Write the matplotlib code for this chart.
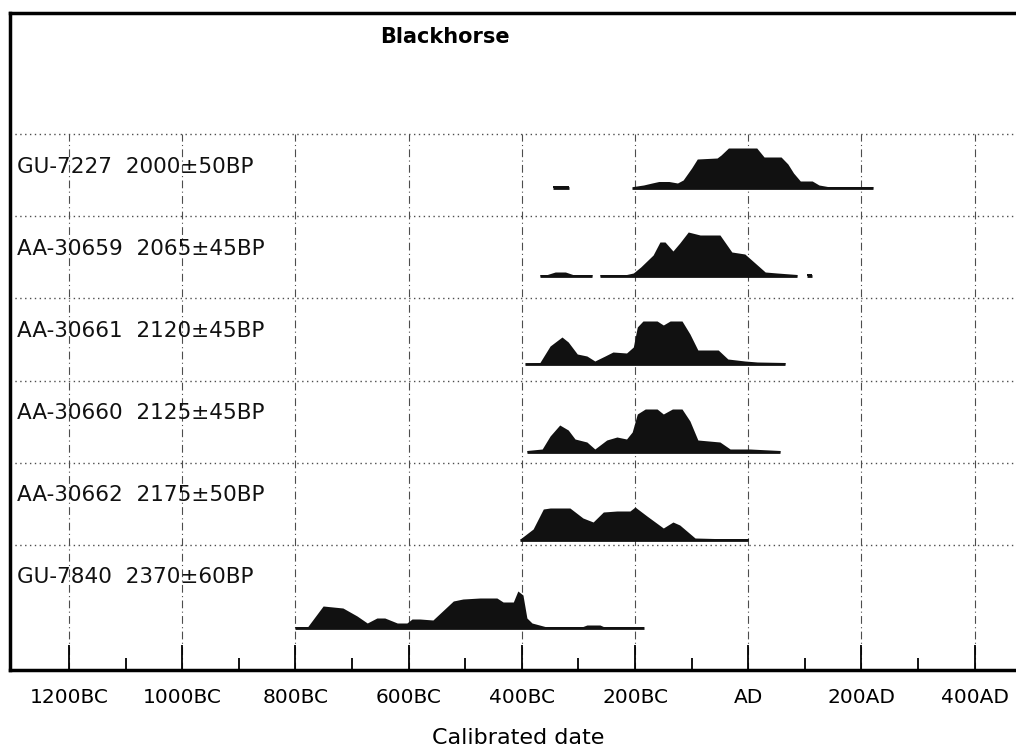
import matplotlib.pyplot as plt

# radiocarbon samples, top to bottom
labels = ["GU-7227  2000±50BP", "AA-30659  2065±45BP", "AA-30661  2120±45BP",
          "AA-30660  2125±45BP", "AA-30662  2175±50BP", "GU-7840  2370±60BP"]

tick_years = [-1200, -1000, -800, -600, -400, -200, 0, 200, 400]
tick_labels = ["1200BC", "1000BC", "800BC", "600BC", "400BC", "200BC", "AD", "200AD", "400AD"]

# probability distributions (calendar year, relative height)
gu7227_years = [-205, -203, -185, -170, -158, -140, -125, -115, -100, -90, -55, -48, -35,
                15, 28, 40, 58, 70, 80, 92, 104, 113, 125, 140, 220]
gu7227_heights = [0, 1.5, 3, 5, 6.5, 6.5, 5, 8, 20, 29, 30, 33, 40,
                  40, 31, 31, 31, 24, 15, 7, 7, 7, 3, 1.5, 1.5]
gu7227_extra_years = [-345, -317]
gu7227_extra_heights = [2, 2]

aa30659_years = [-262, -215, -203, -190, -168, -156, -147, -133, -121, -106, -85, -50,
                 -29, -6, 8, 30, 51, 86]
aa30659_heights = [1.5, 1.5, 3, 9, 21, 34, 34, 25, 33, 44, 41, 41,
                   24, 22, 15, 4, 3, 1.5]
aa30659_extra_years = [-368, -355, -341, -323, -310, -276]
aa30659_extra_heights = [1.5, 1.5, 4, 4, 1.5, 1.5]
aa30659_block_years = [104, 113]
aa30659_block_heights = [2.5, 2.5]

aa30661_years = [-394, -368, -350, -329, -318, -302, -285, -271, -253, -239, -215, -203,
                 -196, -186, -161, -150, -138, -117, -103, -89, -53, -36, -6, 16, 65]
aa30661_heights = [1, 1.5, 18, 27, 22, 10, 8, 3, 8, 12, 11, 17,
                   37, 43, 43, 39, 43, 43, 30, 14, 14, 5, 3, 2, 1.5]

aa30660_years = [-391, -364, -350, -333, -318, -306, -285, -271, -250, -232, -215, -205,
                 -196, -182, -161, -150, -134, -117, -103, -89, -50, -32, 3, 56]
aa30660_heights = [1.5, 3, 16, 27, 22, 13, 10, 3, 12, 15, 13, 20,
                   38, 43, 43, 38, 43, 43, 31, 12, 10, 3, 3, 1.5]

aa30662_years = [-403, -380, -362, -350, -315, -292, -274, -256, -232, -209, -200, -179,
                 -150, -133, -121, -94, -60, 0]
aa30662_heights = [1, 11, 31, 32, 32, 22, 18, 28, 29, 29, 33, 24,
                   12, 18, 15, 2, 1.5, 1.5]

gu7840_years = [-801, -778, -751, -716, -691, -673, -656, -642, -620, -603, -594, -580,
                -557, -521, -504, -474, -444, -433, -415, -407, -398, -391, -382, -359,
                -292, -285, -262, -256, -185]
gu7840_heights = [1.5, 1.5, 22, 20, 12, 5, 10, 10, 5, 5, 9, 9,
                  8, 27, 29, 30, 30, 26, 26, 37, 33, 10, 5, 1.5,
                  1.5, 3, 3, 1.5, 1.5]

samples = [
    [(gu7227_extra_years, gu7227_extra_heights), (gu7227_years, gu7227_heights)],
    [(aa30659_extra_years, aa30659_extra_heights), (aa30659_years, aa30659_heights),
     (aa30659_block_years, aa30659_block_heights)],
    [(aa30661_years, aa30661_heights)],
    [(aa30660_years, aa30660_heights)],
    [(aa30662_years, aa30662_heights)],
    [(gu7840_years, gu7840_heights)],
]


def draw_chart():
    fig = plt.figure(figsize=(10.16, 7.54), dpi=100)
    W, H = 1016, 754
    ax = fig.add_axes([9.5 / W, (H - 670) / H, 1 - 9.5 / W, (670 - 13) / H])
    ax.set_xlim(-1305, 473)
    ax.set_ylim(0, 657)

    n = len(labels)
    # vertical grid, only below header
    for yr in tick_years:
        ax.plot([yr, yr], [0, 536], color="0.3", lw=0.8, ls=(0, (7, 3, 1, 3)), zorder=1)
    # dotted row separators
    for k in range(n):
        ax.axhline(125 + 82.2 * k, color="0.3", lw=1, ls=(0, (1, 2.5)), zorder=1)

    for i, (label, pieces) in enumerate(zip(labels, samples)):
        base = 42 + 88 * (n - 1 - i)
        ax.text(-1292, 93 + 82 * (n - 1 - i), label, ha="left", va="center",
                fontsize=15.5, color="#111111")
        for years, heights in pieces:
            ax.fill_between(years, base, [base + h for h in heights],
                            color="#111111", lw=0, zorder=3)
            ax.plot([years[0], years[-1]], [base, base], color="#111111", lw=2,
                    solid_capstyle="butt", zorder=3)

    ax.text(0.433, 633, "Blackhorse", transform=ax.get_yaxis_transform(),
            ha="center", va="center", fontsize=15, fontweight="bold")

    ax.set_xticks(tick_years)
    ax.set_xticklabels(tick_labels, fontsize=14.5)
    ax.set_xticks([y + 100 for y in tick_years[:-1]], minor=True)
    ax.tick_params(axis="x", which="major", direction="in", length=18, width=1.3, pad=13)
    ax.tick_params(axis="x", which="minor", direction="in", length=9, width=1.3)
    ax.set_yticks([])

    ax.spines["right"].set_visible(False)
    ax.spines["left"].set_linewidth(2.5)
    ax.spines["bottom"].set_linewidth(2.5)
    ax.spines["top"].set_linewidth(2.5)

    fig.text(518 / W, 1 - 738 / H, "Calibrated date", ha="center", va="center", fontsize=16)

    plt.savefig("out.png", dpi=100)


def main():
    draw_chart()


if __name__ == "__main__":
    main()
